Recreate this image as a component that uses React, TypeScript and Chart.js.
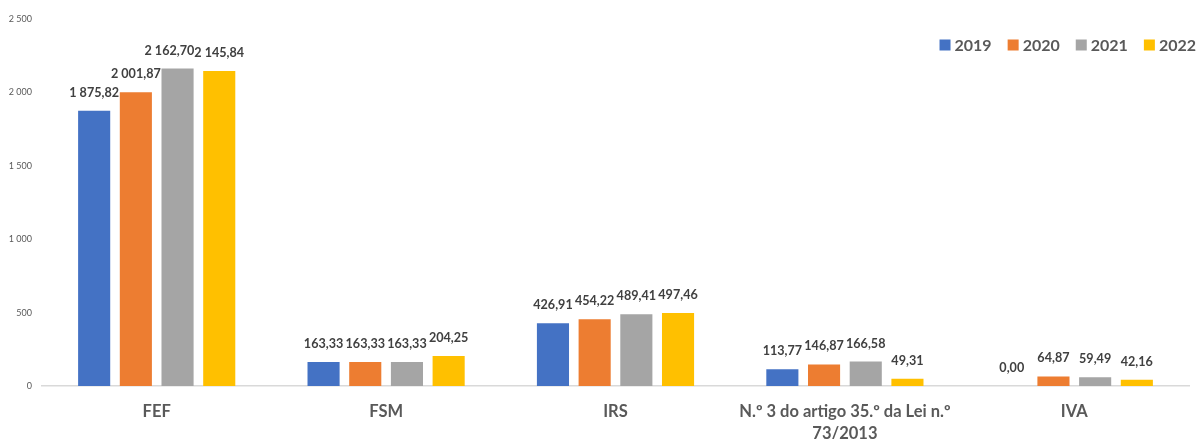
import React, { useEffect, useRef } from "react";
import { Chart, registerables } from "chart.js";

Chart.register(...registerables);

const categories: (string | string[])[] = ["FEF", "FSM", "IRS", ["N.º 3 do artigo 35.º da Lei n.º", "73/2013"], "IVA"];
const seriesLabels = ["2019", "2020", "2021", "2022"];
const seriesColors = ["#4472C4", "#ED7D31", "#A5A5A5", "#FFC000"];
const values2019 = [1875.82, 163.33, 426.91, 113.77, 0.0];
const values2020 = [2001.87, 163.33, 454.22, 146.87, 64.87];
const values2021 = [2162.7, 163.33, 489.41, 166.58, 59.49];
const values2022 = [2145.84, 204.25, 497.46, 49.31, 42.16];
const yMin = 0;
const yMax = 2500;
const yStep = 500;

const FONT = "Lato, 'Open Sans', sans-serif";

function fmtThousands(intPart: string): string {
  return intPart.replace(/\B(?=(\d{3})+(?!\d))/g, " ");
}
function fmtValue(v: number): string {
  const [i, d] = v.toFixed(2).split(".");
  return fmtThousands(i) + "," + d;
}

const dataLabelPlugin = {
  id: "dataLabels",
  afterDatasetsDraw(chart: any) {
    const ctx = chart.ctx;
    ctx.save();
    ctx.font = `bold 12.6px ${FONT}`;
    ctx.fillStyle = "#404040";
    ctx.textAlign = "center";
    ctx.textBaseline = "alphabetic";
    const nCat = chart.data.labels.length;
    const nDs = chart.data.datasets.length;
    for (let i = 0; i < nCat; i++) {
      const items: any[] = [];
      for (let d = 0; d < nDs; d++) {
        const meta = chart.getDatasetMeta(d);
        const el = meta.data[i];
        const v = chart.data.datasets[d].data[i];
        const text = fmtValue(v);
        const w = ctx.measureText(text).width;
        items.push({ text, x: el.x, y: el.y - 14, w });
      }
      for (let d = nDs - 2; d >= 0; d--) {
        const a = items[d];
        const b = items[d + 1];
        if (Math.abs(a.y - b.y) < 12) {
          const aRight = a.x + a.w / 2;
          const bLeft = b.x - b.w / 2;
          if (aRight > bLeft) a.x -= aRight - bLeft;
        }
      }
      for (const it of items) ctx.fillText(it.text, it.x, it.y);
    }
    ctx.restore();
  },
};

const legendPlugin = {
  id: "customLegend",
  afterDraw(chart: any) {
    const ctx = chart.ctx;
    ctx.save();
    ctx.font = `bold 16px ${FONT}`;
    ctx.textBaseline = "middle";
    ctx.textAlign = "left";
    const box = 11;
    const gapText = 4;
    const gapItem = 16;
    const ds = chart.data.datasets;
    const widths = ds.map((d: any) => ctx.measureText(d.label).width);
    const total = widths.reduce((s: number, w: number) => s + box + gapText + w, 0) + gapItem * (ds.length - 1);
    let x = chart.width - total;
    const cy = 45;
    ds.forEach((d: any, k: number) => {
      ctx.fillStyle = d.backgroundColor;
      ctx.fillRect(x, cy - box / 2, box, box);
      ctx.fillStyle = "#595959";
      ctx.fillText(d.label, x + box + gapText, cy + 1);
      x += box + gapText + widths[k] + gapItem;
    });
    ctx.restore();
  },
};

export default function App() {
  const ref = useRef<HTMLCanvasElement | null>(null);
  useEffect(() => {
    if (!ref.current) return;
    const allValues = [values2019, values2020, values2021, values2022];
    const chart = new Chart(ref.current, {
      type: "bar",
      data: {
        labels: categories as any,
        datasets: seriesLabels.map((l, k) => ({
          label: l,
          data: allValues[k],
          backgroundColor: seriesColors[k],
          borderWidth: 0,
          barPercentage: 0.77,
          categoryPercentage: 0.727,
        })),
      },
      options: {
        responsive: false,
        animation: false,
        layout: { padding: { top: 19, right: 7, left: 0, bottom: 0 } },
        plugins: {
          legend: { display: false },
          tooltip: { enabled: false },
        },
        scales: {
          x: {
            grid: { display: false, drawTicks: false },
            border: { display: true, color: "#D9D9D9", width: 1.5 },
            ticks: {
              color: "#595959",
              font: { family: FONT, size: 16.5, weight: "bold", lineHeight: 1.38 },
              padding: 14,
              maxRotation: 0,
              autoSkip: false,
            },
            afterFit: (scale: any) => {
              scale.height = 53;
            },
          },
          y: {
            min: yMin,
            max: yMax,
            grid: { display: false, drawTicks: false },
            border: { display: false },
            ticks: {
              stepSize: yStep,
              color: "#595959",
              font: { family: FONT, size: 9 },
              padding: 10,
              callback: (v: any) => fmtThousands(String(v)),
            },
            afterFit: (scale: any) => {
              scale.width = 42;
            },
          },
        },
      },
      plugins: [dataLabelPlugin, legendPlugin],
    });
    return () => chart.destroy();
  }, []);
  return (
    <div style={{ position: "absolute", left: 0, top: 0, width: 1196, height: 439, background: "#fff" }}>
      <canvas ref={ref} width={1196} height={439} style={{ width: 1196, height: 439 }} />
    </div>
  );
}
